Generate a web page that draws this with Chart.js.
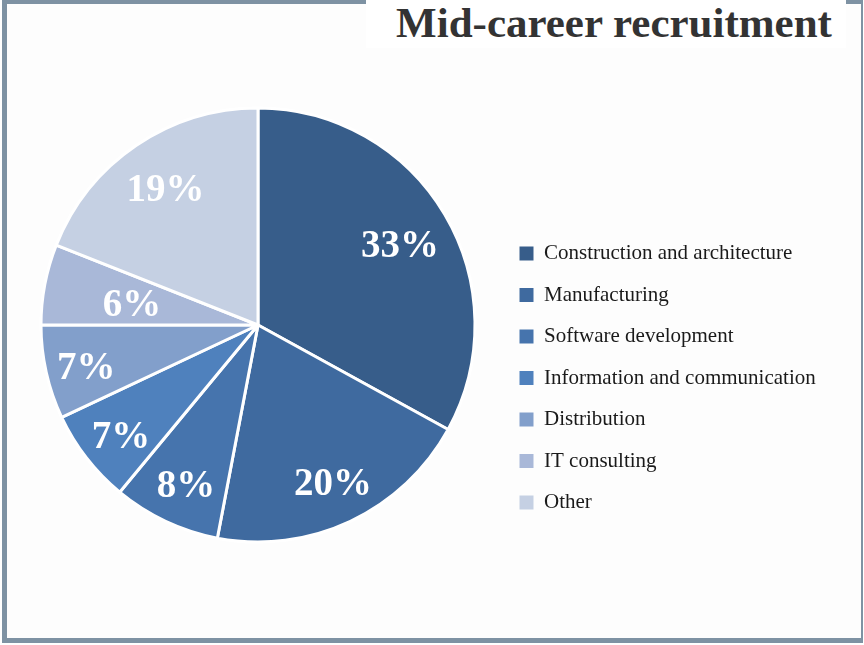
<!DOCTYPE html>
<html>
<head>
<meta charset="utf-8">
<title>Mid-career recruitment</title>
<script src="https://cdn.jsdelivr.net/npm/chart.js@4.4.0/dist/chart.umd.min.js"></script>
<style>
  html, body { margin: 0; padding: 0; background: #ffffff; }
  #wrap { position: relative; width: 864px; height: 645px; overflow: hidden; }
  #frame {
    position: absolute; left: 2px; top: 0; width: 861px; height: 643px;
    box-sizing: border-box; background: #fdfdfd;
    border-style: solid; border-color: #7e92a3;
    border-width: 4px 2px 5px 5px;
  }
  #titleBox {
    position: absolute; left: 366px; top: 0; width: 480px; height: 48px;
    box-sizing: border-box; padding-left: 16px;
    background: #ffffff;
    font-family: 'Liberation Serif', 'Times New Roman', serif;
    font-weight: bold; font-size: 43px; line-height: 46px; color: #333333;
    text-align: center; white-space: nowrap;
  }
  #pie { position: absolute; left: 0; top: 0; }
</style>
</head>
<body>
<div id="wrap">
  <div id="frame"></div>
  <div id="titleBox">Mid-career recruitment</div>
  <canvas id="pie" width="864" height="645"></canvas>
</div>
<script>
const FONT = "'Liberation Serif', 'Times New Roman', serif";

// data
const categories = ['Construction and architecture', 'Manufacturing', 'Software development',
  'Information and communication', 'Distribution', 'IT consulting', 'Other'];
const shares = [33, 20, 8, 7, 7, 6, 19];
const sliceColors = ['#375d8a', '#3f6a9f', '#4674ad', '#4f81bd', '#829fcb', '#a9b8d8', '#c5d0e3'];

// how far out (fraction of radius) each percent label sits
const labelReach = [0.75, 0.79, 0.8, 0.81, 0.82, 0.6, 0.775];

// percent labels inside the slices
const sliceLabels = {
  id: 'sliceLabels',
  afterDatasetsDraw(chart) {
    const { ctx } = chart;
    const meta = chart.getDatasetMeta(0);
    ctx.save();
    ctx.font = "bold 39px " + FONT;
    ctx.fillStyle = '#ffffff';
    ctx.textAlign = 'center';
    ctx.textBaseline = 'middle';
    meta.data.forEach((arc, i) => {
      const { x, y, startAngle, endAngle, outerRadius } = arc.getProps(['x', 'y', 'startAngle', 'endAngle', 'outerRadius'], true);
      const mid = (startAngle + endAngle) / 2;
      const r = outerRadius * labelReach[i];
      ctx.fillText(chart.data.datasets[0].data[i] + '%', x + Math.cos(mid) * r + 2, y + Math.sin(mid) * r + 5);
    });
    ctx.restore();
  }
};

// pin legend width and move it down beside the pie
const legendPlace = {
  id: 'legendPlace',
  beforeInit(chart) {
    const fit = chart.legend.fit;
    chart.legend.fit = function () { fit.call(this); this.width = 340; };
  },
  afterLayout(chart) {
    chart.legend.top += 53;
    chart.legend.bottom += 53;
  }
};

new Chart(document.getElementById('pie'), {
  type: 'pie',
  data: {
    labels: categories,
    datasets: [{
      data: shares,
      backgroundColor: sliceColors,
      borderColor: '#ffffff',
      borderWidth: 3,
      radius: 217
    }]
  },
  options: {
    responsive: false,
    animation: false,
    layout: { padding: { top: 5, bottom: 0, left: 17, right: 25 } },
    plugins: {
      title: { display: false },
      tooltip: { enabled: false },
      legend: {
        position: 'right',
        align: 'center',
        labels: {
          boxWidth: 14,
          boxHeight: 14,
          padding: 20.5,
          color: '#1a1a1a',
          font: { family: FONT, size: 21 },
          generateLabels(chart) {
            const items = Chart.overrides.pie.plugins.legend.labels.generateLabels(chart);
            items.forEach(it => { it.lineWidth = 0; });
            return items;
          }
        }
      }
    }
  },
  plugins: [sliceLabels, legendPlace]
});
</script>
</body>
</html>
